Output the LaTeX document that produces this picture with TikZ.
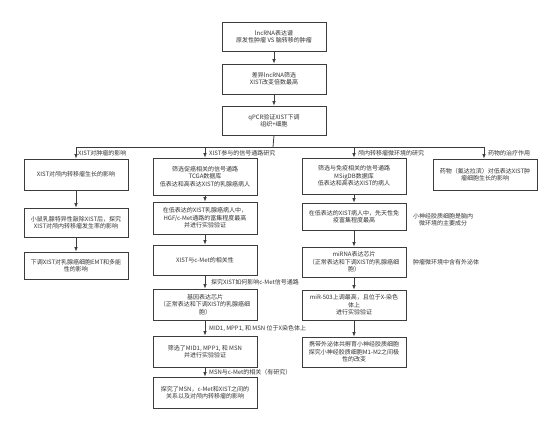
\documentclass[tikz,border=0pt]{standalone}
\usepackage{fontspec}
\newfontfamily\cjk{Noto Sans CJK SC}
\usetikzlibrary{arrows.meta}
\definecolor{ln}{HTML}{3C3C3C}
\definecolor{tx}{HTML}{333333}
\begin{document}
\begin{tikzpicture}[x=1pt,y=-1pt,
  every node/.style={font=\cjk\fontsize{6}{7.4}\selectfont, text=tx, inner sep=1pt},
  box/.style={draw=ln, line width=0.8pt, minimum width=104pt, align=center, fill=white},
  lab/.style={anchor=west, align=left},
  arr/.style={draw=ln, line width=0.8pt, -{Latex[length=4.5pt,width=3.6pt]}},
  ln/.style={draw=ln, line width=0.8pt}]
\useasboundingbox (0,0) rectangle (558,424);
% top column
\node[box, minimum height=29pt] (t1) at (274,36.5) {lncRNA表达谱\\原发性肿瘤 VS 脑转移的肿瘤};
\node[box, minimum height=30pt] (t2) at (274,79) {差异lncRNA筛选\\XIST改变倍数最高};
\node[box, minimum height=29pt] (t3) at (274,120.5) {qPCR验证XIST下调\\组织+细胞};
\draw[arr] (t1) -- (t2);
\draw[arr] (t2) -- (t3);
% branch
\coordinate (hb) at (273,147);
\coordinate (h1) at (76,147);
\coordinate (h2) at (205,147);
\coordinate (h3) at (354,147);
\coordinate (h4) at (484,147);
\draw[ln] (t3.south) -- (hb);
\draw[ln] (h1) -- (h4);
% column 1
\node[box, minimum height=31pt] (a1) at (76,174.5) {XIST对颅内转移瘤生长的影响};
\node[box, minimum height=29pt] (a2) at (76,222.5) {小鼠乳腺特异性敲除XIST后，探究\\XIST对颅内转移瘤发生率的影响};
\node[box, minimum height=27pt] (a3) at (76,265.5) {下调XIST对乳腺癌细胞EMT和多能\\性的影响};
\draw[arr] (h1) -- (a1.north);
\draw[arr] (a1) -- (a2);
\draw[arr] (a2) -- (a3);
\node[lab] (la1) at (77,153) {XIST对肿瘤的影响};
% column 2
\node[box, minimum height=37pt] (b1) at (205,176.5) {筛选促癌相关的信号通路\\TCGA数据库\\低表达和高表达XIST的乳腺癌病人};
\node[box, minimum height=32pt] (b2) at (205,218) {在低表达的XIST乳腺癌病人中，\\HGF/c-Met通路的富集程度最高\\并进行实验验证};
\node[box, minimum height=30pt] (b3) at (205,260) {XIST与c-Met的相关性};
\node[box, minimum height=31pt] (b4) at (205,304.5) {基因表达芯片\\（正常表达和下调XIST的乳腺癌细\\胞）};
\node[box, minimum height=31pt] (b5) at (205,351.5) {筛选了MID1, MPP1, 和 MSN\\并进行实验验证};
\node[box, minimum height=31pt] (b6) at (205,392.5) {探究了MSN，c-Met和XIST之间的\\关系以及对颅内转移瘤的影响};
\draw[arr] (h2) -- (b1.north);
\draw[arr] (b1) -- (b2);
\draw[arr] (b2) -- (b3);
\draw[arr] (b3) -- (b4);
\draw[arr] (b4) -- (b5);
\draw[arr] (b5) -- (b6);
\node[lab] (lb0) at (208,153) {XIST参与的信号通路研究};
\node[lab] (lb1) at (210,282.5) {探究XIST如何影响c-Met信号通路};
\node[lab] (lb2) at (208,328.5) {MID1, MPP1, 和 MSN 位于X染色体上};
\node[lab] (lb3) at (208,372.5) {MSN与c-Met的相关（有研究）};
% column 3
\node[box, minimum height=36pt] (c1) at (354,176) {筛选与免疫相关的信号通路\\MSigDB数据库\\低表达和高表达XIST的病人};
\node[box, minimum height=27pt] (c2) at (354,216.5) {在低表达的XIST病人中，先天性免\\疫富集程度最高};
\node[box, minimum height=30pt] (c3) at (354,262) {miRNA表达芯片\\（正常表达和下调XIST的乳腺癌细\\胞）};
\node[box, minimum height=30pt] (c4) at (354,305) {miR-503上调最高，且位于X-染色\\体上\\进行实验验证};
\node[box, minimum height=30pt] (c5) at (354,352) {携带外泌体共孵育小神经胶质细胞\\探究小神经胶质细胞M1-M2之间极\\性的改变};
\draw[arr] (h3) -- (c1.north);
\draw[arr] (c1) -- (c2);
\draw[arr] (c2) -- (c3);
\draw[arr] (c3) -- (c4);
\draw[arr] (c4) -- (c5);
\node[lab] (lc0) at (357,153) {颅内转移瘤微环境的研究};
\node[align=center] (sc1) at (443,220) {小神经胶质细胞是脑内\\微环境的主要成分};
\node[align=center] (sc2) at (446,262) {肿瘤微环境中含有外泌体};
% column 4
\node[box, minimum height=31pt] (d1) at (485,174.5) {药物（氟达拉滨）对低表达XIST肿\\瘤细胞生长的影响};
\draw[arr] (h4) -- (d1.north west -| h4);
\node[lab] (ld0) at (487,153) {药物的治疗作用};
\end{tikzpicture}
\end{document}
